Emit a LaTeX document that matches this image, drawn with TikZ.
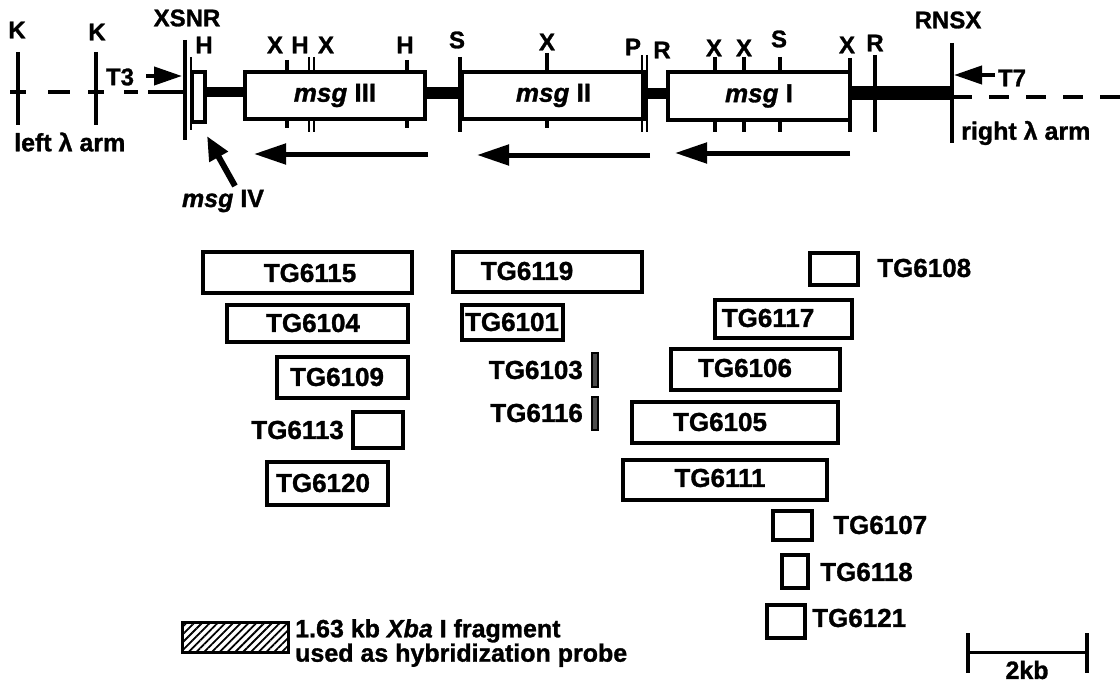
\documentclass[tikz,border=0pt]{standalone}
\usepackage{fontspec}
\setmainfont{Liberation Sans}[BoldFeatures={FakeBold=1.2},BoldItalicFeatures={FakeBold=1.2}]
\usetikzlibrary{arrows.meta,fit,patterns.meta}
\begin{document}
\begin{tikzpicture}[x=1pt,y=-1pt,
  lbl/.style={font=\bfseries\fontsize{24}{26}\selectfont, inner sep=0pt},
  tg/.style={font=\bfseries\fontsize{26}{28}\selectfont, inner sep=0pt},
  genelbl/.style={font=\bfseries\fontsize{26}{28}\selectfont, inner sep=0pt},
  clone/.style={draw, line width=3.5pt, inner sep=0pt},
  gene/.style={draw, line width=4pt, inner sep=0pt},
  tick/.style={line width=3.5pt},
  thintick/.style={line width=2.5pt},
  bar/.style={fill=black, draw=none, inner sep=0pt},
  dna/.style={line width=4pt},
  tx/.style={line width=5pt, -{Triangle[length=32pt,width=20pt]}},
  prom/.style={line width=4pt, -{Triangle[length=28pt,width=18pt]}},
]
\useasboundingbox (0,0) rectangle (1120,685);

% ---------- lambda arms (dashed) ----------
\foreach \a/\b in {10/26,48/70,88/104,124/138,148/184}
  \draw[dna] (\a,92) -- (\b,92);
\foreach \a in {952,989,1026,1063,1100}
  \draw[dna] (\a,97) -- ({min(\a+20,1120)},97);

% K sites
\draw[tick] (18,52) -- (18,125);
\draw[tick] (96,52) -- (96,125);
\node[lbl] (k1) at (17,30) {K};
\node[lbl] (k2) at (97,32) {K};

% left cloning site
\draw[line width=4pt] (185,40) -- (185,140);
\draw[thintick] (191,57) -- (191,130);
\node[lbl] (xsnr) at (187,18) {XSNR};
\node[lbl] (hA) at (204,45) {H};

% bars between genes
\node[bar, fit={(205,87) (245,97)}] (bar1) {};
\node[bar, fit={(425,87) (460,99)}] (bar2) {};
\node[bar, fit={(647,88) (668,99)}] (bar3) {};
\node[bar, fit={(850,86) (952,100)}] (bar4) {};

% genes
\node[gene, line width=3.5pt, fit={(192,72) (205,122)}] (g4) {};
\node[gene, fit={(245,72) (425,119)}] (g3) {};
\node[gene, fit={(462,72) (645,119)}] (g2) {};
\node[gene, fit={(668,72) (850,120)}] (g1) {};
\node[genelbl] (t3) at (g3.center) {\textit{msg} III};
\node[genelbl] (t2) at (g2.center) {\textit{msg} II};
\node[genelbl] (t1) at (g1.center) {\textit{msg} I};

% restriction sites (outside the boxes)
\newcommand\rsite[4]{%
  \draw[#4] (#1,#2) -- (#1,72);
  \draw[#4] (#1,120) -- (#1,#3);}
\rsite{287}{60}{128}{tick}
\rsite{309}{57}{132}{thintick}
\rsite{314}{57}{132}{thintick}
\rsite{407}{60}{128}{tick}
\rsite{547}{53}{128}{tick}
\rsite{715}{57}{132}{tick}
\rsite{744}{57}{132}{tick}
\rsite{780}{57}{132}{tick}
\draw[tick] (460,57) -- (460,132);
\draw[thintick] (642,55) -- (642,132);
\draw[thintick] (647,55) -- (647,132);
\draw[line width=4pt] (850,58) -- (850,132);
\draw[line width=4pt] (875,55) -- (875,132);

\node[lbl] (x1) at (275,45) {X};
\node[lbl] (h1) at (300,45) {H};
\node[lbl] (x2) at (326,45) {X};
\node[lbl] (h2) at (405,45) {H};
\node[lbl] (s1) at (457,40) {S};
\node[lbl] (x3) at (547,42) {X};
\node[lbl] (p1) at (633,47) {P};
\node[lbl] (r1) at (662,50) {R};
\node[lbl] (x4) at (714,48) {X};
\node[lbl] (x5) at (744,48) {X};
\node[lbl] (s2) at (779,39) {S};
\node[lbl] (x6) at (847,45) {X};
\node[lbl] (r2) at (875,43) {R};

% right cloning site
\draw[line width=4pt] (952,43) -- (952,143);
\node[lbl] (rnsx) at (948,20) {RNSX};

% promoters
\node[lbl] (T3) at (120,77) {T3};
\coordinate (t3s) at (146,76);
\coordinate (t3e) at (182,76);
\draw[prom] (t3s) -- (t3e);
\node[lbl] (T7) at (1012,78) {T7};
\coordinate (t7s) at (995,75);
\coordinate (t7e) at (954,75);
\draw[prom] (t7s) -- (t7e);

\node[lbl, anchor=west, font=\bfseries\fontsize{25}{27}\selectfont] (larm) at (14,142) {left λ arm};
\node[lbl, anchor=west, font=\bfseries\fontsize{25}{27}\selectfont] (rarm) at (961,133) {right λ arm};

% msg IV pointer
\node[lbl, font=\bfseries\fontsize{25}{27}\selectfont] (m4) at (223,201) {\textit{msg} IV};
\coordinate (m4s) at (235,186);
\coordinate (m4e) at (207,136);
\draw[line width=6pt, -{Triangle[length=24pt,width=20pt]}] (m4s) -- (m4e);

% transcription direction
\coordinate (a1s) at (428,154); \coordinate (a1e) at (254,154);
\coordinate (a2s) at (650,155); \coordinate (a2e) at (477,155);
\coordinate (a3s) at (850,153); \coordinate (a3e) at (675,153);
\draw[tx] (a1s) -- (a1e);
\draw[tx] (a2s) -- (a2e);
\draw[tx] (a3s) -- (a3e);

% ---------- clones ----------
\node[clone, fit={(203,252) (412,293)}] (c6115) {};
\node[tg] at (310,273) {TG6115};
\node[clone, fit={(227,305) (408,342)}] (c6104) {};
\node[tg] at (313,323) {TG6104};
\node[clone, fit={(277,357) (408,398)}] (c6109) {};
\node[tg] at (337,377) {TG6109};
\node[clone, fit={(353,412) (403,448)}] (c6113) {};
\node[tg, anchor=east] at (344,430) {TG6113};
\node[clone, fit={(267,462) (388,505)}] (c6120) {};
\node[tg] at (323,483) {TG6120};

\node[clone, fit={(453,252) (642,292)}] (c6119) {};
\node[tg] at (527,271) {TG6119};
\node[clone, fit={(462,305) (563,340)}] (c6101) {};
\node[tg] at (512,322) {TG6101};
\node[clone, line width=2pt, fill=black!70, fit={(592,353) (598,387)}] (c6103) {};
\node[tg, anchor=east] at (583,370) {TG6103};
\node[clone, line width=2pt, fill=black!70, fit={(592,397) (598,430)}] (c6116) {};
\node[tg, anchor=east] at (583,413) {TG6116};

\node[clone, fit={(810,253) (858,285)}] (c6108) {};
\node[tg, anchor=west] at (877,268) {TG6108};
\node[clone, fit={(715,300) (852,338)}] (c6117) {};
\node[tg] at (768,318) {TG6117};
\node[clone, fit={(671,349) (840,390)}] (c6106) {};
\node[tg] at (745,368) {TG6106};
\node[clone, fit={(632,402) (838,443)}] (c6105) {};
\node[tg] at (720,422) {TG6105};
\node[clone, fit={(623,460) (827,500)}] (c6111) {};
\node[tg] at (720,478) {TG6111};
\node[clone, fit={(773,511) (812,540)}] (c6107) {};
\node[tg, anchor=west] at (833,525) {TG6107};
\node[clone, fit={(782,555) (808,588)}] (c6118) {};
\node[tg, anchor=west] at (820,572) {TG6118};
\node[clone, fit={(767,605) (805,638)}] (c6121) {};
\node[tg, anchor=west] at (812,618) {TG6121};

% ---------- legend ----------
\node[draw, line width=3pt, inner sep=0pt,
  pattern={Lines[angle=45,distance=5.5pt,line width=1.8pt]},
  fit={(182,622) (288,652)}] (probe) {};
\node[tg, anchor=west, align=left, font=\bfseries\fontsize{25}{23}\selectfont]
  (probetxt) at (295,643) {1.63 kb \textit{Xba} I fragment\\used as hybridization probe};

% ---------- scale bar ----------
\coordinate (sbl) at (968,652);
\coordinate (sbr) at (1087,652);
\draw[line width=3pt] (sbl) -- (sbr);
\draw[line width=4pt] (968,633) -- (968,673);
\draw[line width=4pt] (1087,633) -- (1087,673);
\node[lbl, font=\bfseries\fontsize{25}{27}\selectfont] (kb) at (1027,670) {2kb};
\end{tikzpicture}
\end{document}
